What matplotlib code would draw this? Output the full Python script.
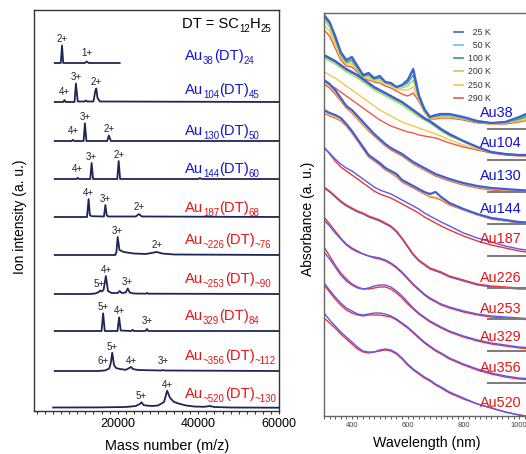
import numpy as np
import matplotlib
matplotlib.use("Agg")
import matplotlib.pyplot as plt
from matplotlib.transforms import offset_copy
from matplotlib.ticker import MultipleLocator, FixedLocator

plt.rcParams['font.family'] = ['Liberation Sans', 'DejaVu Sans']

# ---------------- mass spectra (m/z, intensity above baseline) ----------------
au38_mz = [4400, 5900, 6200, 6500, 11900, 12350, 12800, 20500]
au38_i = [0, 0, 17.5, 0, 0, 1.5, 0, 0]
au104_mz = [4400, 6500, 6800, 7100, 9300, 9650, 10100, 11800, 12100, 12400, 14000, 14450, 14700, 15000, 15600, 60000]
au104_i = [0, 0, 2, 0, 0, 18.5, 0.5, 0.5, 1.5, 0.5, 0.5, 11, 13.5, 4, 0.5, 0]
au130_mz = [4400, 8600, 8900, 9200, 11550, 11880, 12250, 17400, 17830, 18300, 60000]
au130_i = [0, 0, 1.2, 0, 0, 17.7, 0, 0, 5.5, 0, 0]
au144_mz = [4400, 9800, 10100, 10400, 13200, 13550, 13900, 19900, 20250, 20600, 40000, 40400, 40800, 60000]
au144_i = [0, 0, 1.2, 0, 0, 16, 0, 0, 18, 0, 0, 1, 0, 0]
au187_mz = [4400, 12400, 12800, 13100, 13500, 16600, 16950, 17300, 17700, 24500, 25250, 26000, 60000]
au187_i = [0, 0, 18, 2, 0.8, 0.5, 12, 1.5, 0.5, 0.5, 3, 0.5, 0]
au226_mz = [4400, 19400, 19700, 20000, 20450, 21500, 24000, 27000, 29000, 29700, 31000, 34000, 60000]
au226_i = [0, 0, 3, 18, 5, 3, 1.5, 1, 2.5, 3, 1.5, 0.5, 0]
au253_mz = [4400, 13000, 14500, 15300, 15700, 16000, 16500, 17080, 17600, 18500, 20000, 20500,
            21000, 22000, 22500, 23000, 24000, 27000, 27300, 27600, 60000]
au253_i = [0, 0, 0.5, 2, 3.5, 2.5, 4, 18, 3, 1, 1, 3, 1, 1.5, 5.5, 1.5, 0.5, 0.3, 1, 0.3, 0]
au329_mz = [4400, 16000, 16400, 16800, 19950, 20350, 20750, 23400, 23700, 24000, 26900, 27250, 27600, 60000]
au329_i = [0, 0, 17.7, 0, 0, 13.7, 0.5, 0, 1.2, 0, 0, 2, 0, 0]
au356_mz = [4400, 15000, 16800, 17300, 17900, 18300, 18650, 19100, 19600, 20500, 22000, 22900,
            23300, 23800, 25000, 30800, 31200, 31600, 60000]
au356_i = [0, 0, 0.5, 1.3, 2.5, 8, 18.3, 6, 3, 2, 1.2, 3, 4, 2, 1, 0.5, 1, 0.5, 0]
au520_mz = [4000, 15000, 22000, 24500, 25500, 25920, 26400, 27000, 28500, 30000, 31500, 32270, 33000,
            34000, 35500, 37000, 39000, 41500, 42800, 44000, 48000, 60000]
au520_i = [0.5, 0.6, 1, 2, 4, 5.7, 3, 2.5, 2, 2.5, 6, 17.3, 10, 6, 4, 2.5, 1.5, 1.2, 2, 1, 0.5, 0.3]

ms_traces = [(au38_mz, au38_i), (au104_mz, au104_i), (au130_mz, au130_i), (au144_mz, au144_i),
             (au187_mz, au187_i), (au226_mz, au226_i), (au253_mz, au253_i), (au329_mz, au329_i),
             (au356_mz, au356_i), (au520_mz, au520_i)]
ms_offsets = [348, 309, 270, 232, 194, 156, 117, 80, 40, 3]

peak_mz = [[6200, 12350], [6800, 9650, 14700], [8900, 11880, 17830], [10100, 13550, 20250],
           [12800, 16950, 25250], [20000, 29700], [15300, 17080, 22500], [16400, 20350, 27250],
           [16300, 18650, 23300, 31200], [25920, 32270]]
peak_lab = [['2+', '1+'], ['4+', '3+', '2+'], ['4+', '3+', '2+'], ['4+', '3+', '2+'],
            ['4+', '3+', '2+'], ['3+', '2+'], ['5+', '4+', '3+'], ['5+', '4+', '3+'],
            ['6+', '5+', '4+', '3+'], ['5+', '4+']]

# cluster formulas: Au_n (DT)_m as printed
ms_au = ['38', '104', '130', '144', '187', '~226', '~253', '329', '~356', '~520']
ms_dt = ['24', '45', '50', '60', '68', '~76', '~90', '84', '~112', '~130']
ms_name_y = [351, 317, 276, 238, 199, 167, 128, 91, 51, 13]

# ---------------- absorbance spectra (trace readings, a.u., axis runs downward) ----------------
wl = [300, 320, 340, 360, 380, 400, 420, 440, 460, 480, 500, 520, 540, 560, 580, 600, 620, 640,
      660, 680, 700, 720, 750, 800, 850, 900, 950, 1000, 1050, 1100]
temps = [25, 50, 100, 200, 250, 290]

au38_abs = {
    25: [15, 22, 36, 52, 60, 57, 66, 75, 73, 78, 76, 82, 83, 87, 85, 80, 69, 95, 109, 117, 115, 114, 114, 117, 121, 123, 122, 117, 111, 107],
    50: [16, 23, 37, 53, 61, 58, 67, 75, 74, 78, 77, 82, 84, 87, 86, 81, 71, 96, 109, 117, 115, 114, 115, 118, 121, 123, 122, 118, 112, 108],
    100: [17, 24, 38, 54, 62, 60, 68, 76, 75, 79, 78, 82, 84, 87, 86, 83, 75, 97, 110, 117, 116, 115, 115, 118, 122, 123, 122, 119, 114, 110],
    200: [20, 27, 41, 56, 63, 62, 69, 77, 77, 80, 80, 83, 85, 88, 88, 86, 80, 98, 111, 118, 117, 116, 116, 119, 122, 123, 123, 120, 116, 113],
    250: [25, 31, 45, 58, 64, 64, 70, 78, 79, 81, 82, 84, 86, 89, 90, 90, 87, 99, 111, 118, 118, 117, 117, 119, 122, 124, 123, 121, 118, 115],
    290: [30, 36, 48, 60, 66, 67, 72, 79, 80, 82, 83, 86, 88, 91, 94, 96, 93, 101, 112, 119, 119, 118, 118, 120, 123, 124, 124, 122, 119, 117],
}
au104_abs = {
    25: [55, 58, 61, 65, 69, 72, 75, 79, 83, 87, 90, 93, 96, 99, 102, 106, 110, 114, 118, 121, 125, 129, 134, 141, 147, 152, 154, 155, 155, 155],
    100: [56, 59, 62, 66, 70, 73, 76, 80, 84, 88, 91, 94, 97, 100, 103, 107, 111, 115, 119, 122, 126, 130, 135, 141, 147, 152, 154, 155, 155, 155],
    200: [58, 61, 64, 68, 72, 75, 78, 82, 86, 90, 93, 96, 99, 102, 105, 109, 113, 117, 120, 123, 127, 131, 136, 142, 148, 152, 154, 155, 155, 155],
    250: [72, 75, 78, 82, 86, 90, 94, 98, 102, 106, 110, 113, 116, 119, 122, 124, 126, 128, 130, 132, 134, 136, 140, 145, 149, 152, 154, 155, 155, 155],
    290: [82, 85, 88, 92, 96, 100, 104, 108, 112, 116, 120, 123, 126, 128, 130, 132, 133, 135, 136, 137, 138, 140, 143, 147, 150, 153, 155, 156, 156, 156],
}
au130_abs = {
    25: [80, 84, 90, 98, 106, 110, 116, 122, 128, 134, 139, 144, 148, 151, 154, 158, 162, 165, 168, 171, 174, 176, 179, 183, 186, 188, 189, 190, 191, 191],
    250: [82, 86, 92, 100, 107, 112, 118, 124, 130, 135, 140, 145, 149, 152, 155, 159, 163, 166, 169, 172, 175, 177, 180, 184, 187, 189, 190, 191, 192, 192],
    290: [84, 88, 94, 101, 108, 113, 119, 125, 131, 136, 141, 146, 150, 153, 156, 160, 164, 167, 170, 173, 176, 178, 181, 185, 188, 190, 191, 192, 192, 192],
}
au144_abs = {
    25: [110, 113, 115, 118, 124, 131, 139, 147, 155, 159, 163, 168, 171, 174, 180, 183, 186, 189, 192, 194, 192, 197, 203, 209, 214, 218, 220, 222, 223, 223],
    250: [112, 115, 117, 120, 125, 132, 140, 148, 156, 160, 164, 169, 172, 176, 181, 184, 187, 190, 193, 196, 197, 199, 204, 210, 215, 218, 221, 222, 223, 223],
    290: [113, 116, 118, 121, 126, 133, 141, 149, 157, 161, 165, 170, 173, 177, 182, 185, 188, 191, 194, 197, 198, 200, 205, 210, 215, 219, 221, 223, 224, 224],
}
# low-T (blue) and room-T (red) pairs for the larger clusters
au187_cold = [148, 153, 159, 164, 168, 171, 175, 179, 183, 187, 190, 192, 194, 197, 200, 203, 206, 209, 213, 216, 219, 222, 226, 233, 238, 242, 246, 249, 251, 251]
au187_warm = [147, 154, 161, 167, 171, 175, 179, 183, 187, 191, 194, 196, 198, 201, 204, 207, 210, 213, 217, 220, 223, 226, 230, 236, 241, 245, 248, 251, 253, 253]
au226_cold = [188, 192, 197, 202, 206, 209, 212, 214, 217, 219, 221, 224, 227, 232, 239, 247, 255, 261, 265, 269, 271, 273, 277, 281, 285, 287, 288, 289, 289, 289]
au226_warm = [187, 191, 196, 201, 205, 208, 211, 213, 216, 218, 220, 223, 226, 231, 238, 246, 254, 260, 264, 268, 270, 272, 276, 280, 284, 286, 287, 288, 288, 288]
au253_cold = [220, 226, 233, 239, 245, 249, 252, 254, 256, 257, 258, 260, 263, 267, 272, 278, 284, 289, 294, 298, 301, 304, 307, 311, 314, 316, 317, 318, 319, 319]
au253_warm = [217, 224, 231, 238, 244, 248, 251, 254, 256, 258, 259, 261, 264, 268, 273, 279, 285, 290, 295, 299, 302, 305, 308, 312, 315, 317, 318, 319, 320, 320]
au329_cold = [252, 259, 267, 275, 281, 285, 288, 289, 288, 286, 285, 285, 287, 291, 296, 302, 308, 313, 317, 321, 324, 327, 331, 336, 340, 343, 345, 347, 348, 348]
au329_warm = [247, 256, 265, 273, 279, 284, 287, 289, 289, 288, 287, 287, 289, 293, 298, 304, 309, 314, 318, 322, 325, 328, 332, 337, 341, 344, 346, 348, 349, 349]
au356_cold = [283, 290, 297, 303, 308, 311, 314, 315, 314, 313, 313, 314, 316, 319, 323, 327, 332, 337, 342, 346, 350, 353, 358, 364, 369, 373, 376, 378, 379, 380]
au356_warm = [285, 292, 299, 305, 310, 313, 315, 316, 315, 315, 315, 316, 317, 320, 324, 328, 333, 338, 343, 347, 351, 354, 359, 365, 370, 374, 377, 379, 380, 381]
au520_cold = [313, 320, 326, 332, 337, 342, 347, 351, 352, 352, 350, 349, 350, 353, 358, 364, 369, 373, 377, 380, 384, 387, 392, 398, 404, 408, 412, 415, 417, 418]
au520_warm = [318, 323, 328, 334, 339, 344, 349, 352, 353, 352, 351, 350, 351, 354, 359, 365, 370, 374, 378, 381, 385, 388, 393, 399, 404, 408, 412, 415, 417, 418]

uv_names = ['Au38', 'Au104', 'Au130', 'Au144', 'Au187', 'Au226', 'Au253', 'Au329', 'Au356', 'Au520']
uv_name_y = [117, 147, 180, 213, 243, 282, 313, 341, 372, 407]
uv_sep_y = [129, 160, 192, 224, 256, 288, 319, 351, 383]

t_colors = {25: '#3f5fd9', 50: '#5cc6ea', 100: '#31a060', 200: '#a8d65c', 250: '#f6c64a', 290: '#ef5a3e'}
BLUE_TXT = '#1414d2'
RED_TXT = '#e81414'
NAVY = '#1e2656'
COLD = '#5a5af0'
WARM = '#ee3434'


def rich_text(ax, x, y, parts, color, size, renderer):
    # parts: (string, is_subscript); each piece placed after the previous one
    fig = ax.figure
    dx = 0.0
    for s, sub in parts:
        tr = offset_copy(ax.transData, fig=fig, x=dx, y=-2.6 if sub else 0, units='points')
        t = ax.text(x, y, s, fontsize=size * 0.66 if sub else size, color=color,
                    transform=tr, ha='left', va='baseline')
        dx += t.get_window_extent(renderer).width * 72.0 / fig.dpi


def main():
    fig = plt.figure(figsize=(5.26, 4.54), dpi=100)
    renderer = fig.canvas.get_renderer()

    # ---------- left: mass spectra ----------
    ax1 = fig.add_axes([0.0646, 0.0947, 0.4658, 0.8833])
    ax1.set_xlim(-750, 60000)
    ax1.set_ylim(0, 401)
    for k, (mz, inten) in enumerate(ms_traces):
        y = np.array(inten) + ms_offsets[k]
        ax1.plot(mz, y, color=NAVY, lw=1.3, solid_joinstyle='round')
        for pm, lab in zip(peak_mz[k], peak_lab[k]):
            h = np.interp(pm, mz, inten)
            ax1.text(pm, ms_offsets[k] + max(h, 4) + 1.2, lab, fontsize=7, ha='center',
                     va='bottom', color='#222222')
        parts = [('Au', False), (ms_au[k], True), ('(DT)', False), (ms_dt[k], True)]
        rich_text(ax1, 36650, ms_name_y[k], parts, BLUE_TXT if k < 4 else RED_TXT, 10.6, renderer)
    rich_text(ax1, 36000, 383, [('DT = SC', False), ('12', True), ('H', False), ('25', True)],
              'black', 10.6, renderer)
    ax1.set_yticks([])
    ax1.xaxis.set_major_locator(FixedLocator([20000, 40000, 60000]))
    ax1.xaxis.set_minor_locator(MultipleLocator(2000))
    ax1.tick_params(axis='x', which='both', direction='out', length=2.5, width=0.8,
                    labelsize=9, pad=2.5, color='#333333')
    for s in ax1.spines.values():
        s.set_color('#333333')
        s.set_linewidth(1.0)
    ax1.set_xlabel('Mass number (m/z)', fontsize=10.4)
    ax1.xaxis.set_label_coords(0.545, -0.07)
    ax1.set_ylabel('Ion intensity (a. u.)', fontsize=10)
    ax1.yaxis.set_label_coords(-0.03, 0.485)

    # ---------- right: absorbance ----------
    ax2 = fig.add_axes([0.616, 0.0837, 0.424, 0.8877])
    groups = [au38_abs, au104_abs, au130_abs, au144_abs]
    handles = {}
    for g in groups:
        for t in sorted(g.keys(), reverse=True):
            ln, = ax2.plot(wl, g[t], color=t_colors[t], lw=1.6 if t == 25 else 1.0)
            if g is au38_abs:
                handles[t] = ln
    pairs = [(au187_warm, au187_cold), (au226_cold, au226_warm), (au253_warm, au253_cold),
             (au329_warm, au329_cold), (au356_warm, au356_cold), (au520_warm, au520_cold)]
    cold_set = [au187_cold, au226_cold, au253_cold, au329_cold, au356_cold, au520_cold]
    for a, b in pairs:
        for curve in (a, b):
            col = COLD if any(curve is c for c in cold_set) else WARM
            ax2.plot(wl, curve, color=col, lw=1.0)
    ax2.hlines(uv_sep_y, 885, 1100, color='#7a7a7a', lw=1.4)
    for k, name in enumerate(uv_names):
        ax2.text(860, uv_name_y[k], name, fontsize=10.4, ha='left',
                 va='baseline', color=BLUE_TXT if k < 4 else RED_TXT)
    labels = [('  ' * (3 - len(str(t)))) + f'{t} K' for t in temps]
    leg = ax2.legend([handles[t] for t in temps], labels, loc='upper left',
                     bbox_to_anchor=(0.585, 0.963), frameon=False, fontsize=6.3,
                     handlelength=1.0, handletextpad=0.5, labelspacing=0.48,
                     borderpad=0, borderaxespad=0)
    for txt in leg.get_texts():
        txt.set_color('#333333')
    for ln in leg.get_lines():
        ln.set_linewidth(1.2)

    ax2.set_xlim(300, 1100)
    ax2.set_ylim(416, 13)
    ax2.set_yticks([])
    ax2.xaxis.set_major_locator(FixedLocator([400, 600, 800, 1000]))
    ax2.xaxis.set_minor_locator(MultipleLocator(20))
    ax2.tick_params(axis='x', which='both', direction='out', length=2, width=0.7,
                    labelsize=5.5, pad=2, color='#555555', labelcolor='#444444')
    for s in ax2.spines.values():
        s.set_color('#666666')
        s.set_linewidth(1.0)
    ax2.set_xlabel('Wavelength (nm)', fontsize=10.2)
    ax2.xaxis.set_label_coords(0.462, -0.05)
    ax2.set_ylabel('Absorbance (a. u.)', fontsize=10)
    ax2.yaxis.set_label_coords(-0.04, 0.488)

    fig.savefig('out.png', dpi=100)


if __name__ == '__main__':
    main()
